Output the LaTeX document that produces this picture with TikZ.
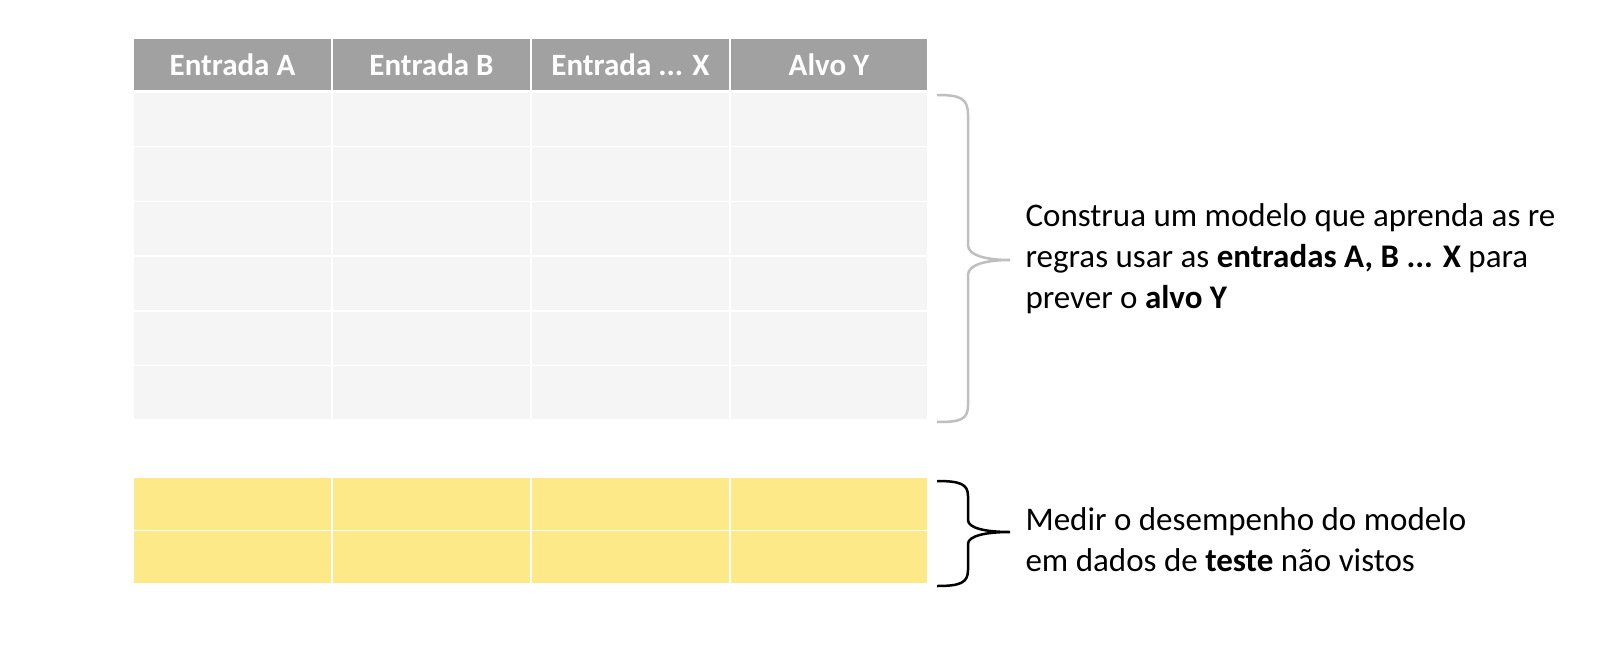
\documentclass[tikz,border=0pt]{standalone}
\usepackage{fontspec}
\setmainfont{Carlito}
\begin{document}
\begin{tikzpicture}[x=1pt,y=-1pt,
  hdr/.style={fill=black!37,draw=white,line width=1.5pt},
  htxt/.style={text=white,font=\fontsize{31}{34}\selectfont\bfseries},
  blue/.style={fill=blue!15!cyan!8!black!4!white,draw=white,line width=1.5pt},
  yel/.style={fill=yellow!70!orange!45,draw=white,line width=1.5pt},
  lbl/.style={anchor=west,align=left,font=\fontsize{33}{41}\selectfont}]
\useasboundingbox (0,0) rectangle (1605,656);
\fill[white] (0,0) rectangle (1605,656);
\def\xs{{133,332,531,730,928}}
\foreach \i in {0,1,2,3}{
  \pgfmathsetmacro\xa{\xs[\i]}\pgfmathsetmacro\xb{\xs[\i+1]}
  \path[hdr] (\xa,38) rectangle (\xb,91);
  \foreach \r in {0,...,5}{
    \path[blue] (\xa,{92+\r*54.7}) rectangle (\xb,{92+(\r+1)*54.7});}
  \foreach \r in {0,1}{
    \path[yel] (\xa,{477+\r*53.5}) rectangle (\xb,{477+(\r+1)*53.5});}
}
\node[htxt] (h0) at (232.5,65) {Entrada A};
\node[htxt] (h1) at (431.5,65) {Entrada B};
\node[htxt] (h2) at (630.5,65) {Entrada ... X};
\node[htxt] (h3) at (829,65) {Alvo Y};
\draw[black!25,line width=2.5pt] (937,95) .. controls (960,95) and (968,98) .. (968,115) -- (968,245)
  .. controls (968,255) and (985,260) .. (1010,260)
  .. controls (985,260) and (968,265) .. (968,275) -- (968,405)
  .. controls (968,420) and (960,422) .. (937,422);
\draw[black,line width=2.5pt] (937,481) .. controls (960,481) and (968,484) .. (968,496) -- (968,520)
  .. controls (968,528) and (985,532) .. (1010,532)
  .. controls (985,532) and (968,536) .. (968,544) -- (968,570)
  .. controls (968,583) and (960,586) .. (937,586);
\node[lbl] (t1) at (1022,259) {Construa um modelo que aprenda as re\\regras usar as \textbf{entradas A, B ... X} para\\prever o \textbf{alvo Y}};
\node[lbl] (t2) at (1022,540) {Medir o desempenho do modelo\\em dados de \textbf{teste} não vistos};
\end{tikzpicture}
\end{document}
